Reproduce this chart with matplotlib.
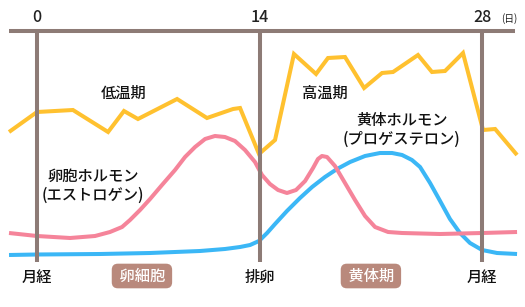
import matplotlib
matplotlib.use('Agg')
import matplotlib.pyplot as plt

plt.rcParams['font.family'] = ['Noto Sans CJK JP', 'DejaVu Sans']

# basal body temperature (zig-zag line), x in days, y in chart units
temp_days = [-1.76, 0, 2.26, 4.47, 5.47, 6.35, 8.81, 10.69, 12.33, 12.77, 13.96,
             14.97, 16.16, 17.55, 18.30, 19.37, 20.57, 21.70, 22.39, 23.96,
             24.84, 25.66, 26.79, 28.05, 28.81, 30.19]
temp_vals = [175, 195, 197, 175, 196, 188, 208, 189, 198, 199, 153,
             167, 253, 233, 249, 250, 219, 234, 235, 252,
             235, 236, 254, 177, 178, 152]

# estrogen (pink)
estro_days = [-1.76, 0, 2.08, 3.65, 4.59, 5.35, 5.85, 6.48, 7.11, 7.86, 8.68, 9.31,
              9.94, 10.57, 11.19, 11.82, 12.45, 13.08, 13.71, 14.15, 14.65, 15.16,
              15.72, 16.29, 16.86, 17.36, 17.67, 17.92, 18.24, 18.74, 19.37, 20.0,
              20.63, 21.26, 22.08, 22.96, 25.35, 27.99, 30.19]
estro_vals = [74, 71, 69, 71, 75, 80, 87, 97, 108, 122, 137, 150,
              160, 168, 171, 170, 166, 157, 145, 132, 123, 117,
              114, 117, 126, 139, 148, 151, 150, 141, 124, 107,
              91, 80, 75, 74, 73, 74, 75]

# progesterone (blue)
prog_days = [-1.76, 0, 3.96, 7.11, 10.25, 11.82, 12.77, 13.40, 13.96, 14.47, 14.97,
             15.72, 16.54, 17.30, 18.11, 18.87, 19.69, 20.63, 21.57, 22.33, 22.96,
             23.58, 24.09, 24.72, 25.35, 25.97, 26.60, 27.23, 27.99, 28.93, 30.19]
prog_vals = [52, 52.5, 53, 54, 56, 58, 60, 62, 66, 74, 83,
             96, 109, 120, 130, 138, 145, 151, 154, 154, 152,
             147, 140, 124, 106, 88, 74, 64, 57, 54, 53]

tick_days = [0, 14, 28]
tick_labels = ['0', '14', '28']
bottom_labels = ['月経', '排卵', '月経']
phase_days = [6.6, 21.0]
phase_labels = ['卵細胞', '黄体期']

GRAY = '#8D7B76'
YELLOW = '#FFC12F'
PINK = '#F5849A'
BLUE = '#3BB7F6'
BOX = '#B9897C'
INK = '#111111'

fig = plt.figure(figsize=(5.25, 3.07), dpi=100)
ax = fig.add_axes([0, 0, 1, 1])
ax.set_xlim(-2.327, 30.69)
ax.set_ylim(0, 307)
ax.axis('off')

lw = 2.9
ax.plot(prog_days, prog_vals, color=BLUE, lw=lw, solid_capstyle='butt', zorder=2)
ax.plot(estro_days, estro_vals, color=PINK, lw=lw, solid_capstyle='butt', zorder=3)
ax.plot(temp_days, temp_vals, color=YELLOW, lw=lw, solid_joinstyle='miter',
        solid_capstyle='butt', zorder=4)

# frame: top axis line and day markers
ax.plot([-1.76, 30.06], [276, 276], color=GRAY, lw=lw, solid_capstyle='butt', zorder=5)
for d in tick_days:
    ax.plot([d, d], [276, 45], color=GRAY, lw=lw, solid_capstyle='butt', zorder=5)

for d, t in zip(tick_days, tick_labels):
    ax.text(d, 290, t, ha='center', va='center', fontsize=11.5, color='#222222',
            fontweight='medium')
ax.text(29.7, 288.5, '(日)', ha='center', va='center', fontsize=7, color='#222222')

for d, t in zip(tick_days, bottom_labels):
    ax.text(d, 30, t, ha='center', va='center', fontsize=11, color=INK,
            fontweight='medium')

# phase labels in rounded boxes (spaces widen the box sideways)
for d, t in zip(phase_days, phase_labels):
    ax.text(d, 31, ' ' + t + ' ', ha='center', va='center', fontsize=11, color='white',
            fontweight='medium',
            bbox=dict(boxstyle='round,pad=0.25,rounding_size=0.4', fc=BOX, ec='none'))

kw = dict(ha='center', va='center', fontsize=11, color=INK, fontweight='medium')
ax.text(5.42, 214, '低温期', **kw)
ax.text(18.1, 214, '高温期', **kw)
ax.text(3.52, 121, '卵胞ホルモン\n(エストロゲン)', linespacing=1.1, **kw)
ax.text(22.95, 177, '黄体ホルモン\n(プロゲステロン)', linespacing=1.1, **kw)

fig.savefig('out.png', dpi=100)
